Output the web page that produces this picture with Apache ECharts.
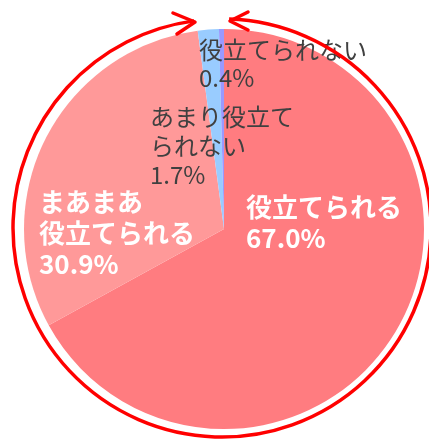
<!DOCTYPE html>
<html><head><meta charset="utf-8">
<script src="https://cdn.jsdelivr.net/npm/echarts@6/dist/echarts.min.js"></script>
<style>html,body{margin:0;padding:0;background:#fff}#c{width:429px;height:439px}</style>
</head><body><div id="c"></div>
<script>
const categories = ['役立てられる', 'まあまあ役立てられる', 'あまり役立てられない', '役立てられない'];
const labelNames = ['役立てられる', 'まあまあ\n役立てられる', 'あまり役立て\nられない', '役立てられない'];
const values = [67.0, 30.9, 1.7, 0.4];
const colors = ['#FF7C80', '#FF9999', '#99CCFF', '#9999FF'];

const labelStyles = [
  {x: 246, y: 192, color: '#ffffff', fontWeight: 'bold', fontSize: 26, lineHeight: 31},
  {x: 39, y: 187, color: '#ffffff', fontWeight: 'bold', fontSize: 26, lineHeight: 31},
  {x: 150, y: 102, color: '#404040', fontWeight: 'normal', fontSize: 24, lineHeight: 29},
  {x: 199, y: 36, color: '#404040', fontWeight: 'normal', fontSize: 24, lineHeight: 28}
];

const chart = echarts.init(document.getElementById('c'));
const cx = 222, cy = 228, rr = 209;
chart.setOption({
  animation: false,
  series: [{
    type: 'pie',
    center: [224, 229],
    radius: 200,
    startAngle: 90,
    clockwise: true,
    silent: true,
    labelLine: {show: false},
    data: categories.map((c, i) => ({
      name: c,
      value: values[i],
      itemStyle: {color: colors[i]},
      label: {
        show: true,
        position: 'inside',
        formatter: labelNames[i] + '\n' + values[i].toFixed(1) + '%',
        color: labelStyles[i].color,
        fontWeight: labelStyles[i].fontWeight,
        fontSize: labelStyles[i].fontSize,
        lineHeight: labelStyles[i].lineHeight,
        fontFamily: 'Noto Sans CJK JP',
        align: 'left'
      }
    })),
    labelLayout: function (p) {
      const s = labelStyles[p.dataIndex];
      return {x: s.x, y: s.y, align: 'left', verticalAlign: 'top'};
    }
  }],
  graphic: [
    {
      type: 'arc',
      shape: {cx: cx, cy: cy, r: rr, startAngle: -Math.PI / 2 + 0.034, endAngle: 3 * Math.PI / 2 - 0.134, clockwise: true},
      style: {stroke: '#FF0000', lineWidth: 3.5, fill: null},
      z: 10
    },
    {
      type: 'polyline',
      shape: {points: [[173, 13], [195, 22], [177, 34]]},
      style: {stroke: '#FF0000', lineWidth: 3.5, fill: null, lineJoin: 'round', lineCap: 'round'},
      z: 10
    },
    {
      type: 'polyline',
      shape: {points: [[248, 12], [230, 21], [248, 30]]},
      style: {stroke: '#FF0000', lineWidth: 3.5, fill: null, lineJoin: 'round', lineCap: 'round'},
      z: 10
    }
  ]
});
</script>
</body></html>
